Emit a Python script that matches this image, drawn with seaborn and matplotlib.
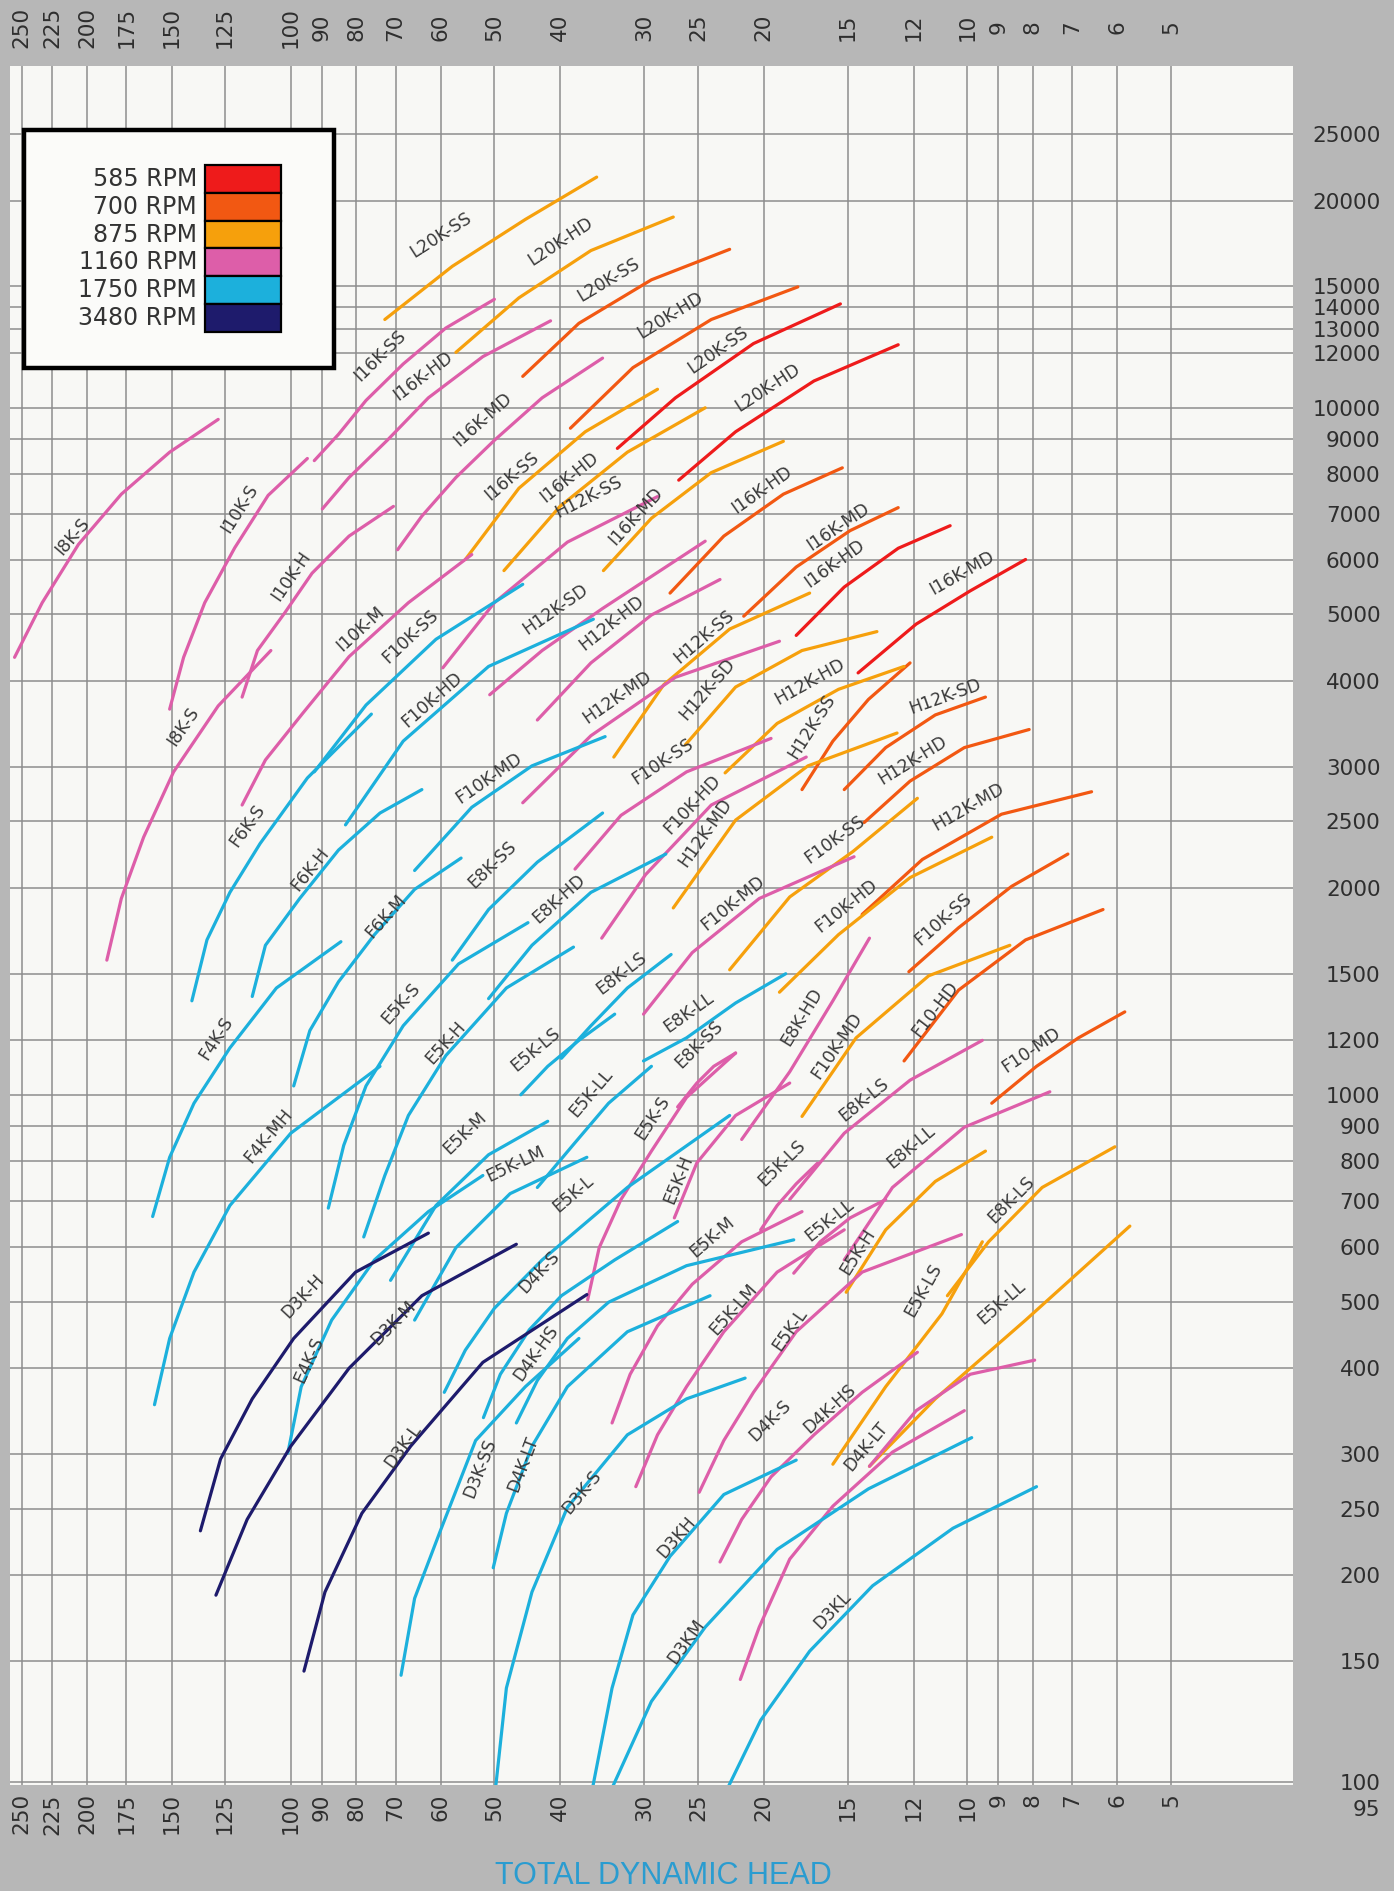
import numpy as np
import pandas as pd
import matplotlib
matplotlib.use("Agg")
import matplotlib.pyplot as plt
from matplotlib.patches import Rectangle
from matplotlib.ticker import NullLocator
import seaborn as sns

# ---------------- data (TDH in ft, flow in GPM) ----------------
speeds = ["585 RPM", "700 RPM", "875 RPM", "1160 RPM", "1750 RPM", "3480 RPM"]
colors = ["#ee1b1b", "#f25812", "#f6a00c", "#dd5ea9", "#1cb0dc", "#1e1b6c"]

names585 = ["L20K-SS", "L20K-HD", "I16K-HD", "I16K-MD"]
tdh585 = [[32.9, 27.0, 20.7, 15.4], [26.7, 22.0, 16.85, 12.65], [17.9, 15.2, 12.65, 10.6], [14.5, 11.9, 9.9, 8.2]]
gpm585 = [[8720, 10330, 12390, 14150], [7840, 9220, 10930, 12340], [4660, 5480, 6240, 6730], [4110, 4840, 5410, 6010]]
lab585_tdh = [23.4, 19.7, 15.7, 10.2]
lab585_gpm = [12130, 10670, 5920, 5750]

names700 = ["L20K-SS", "L20K-HD", "I16K-HD", "I16K-MD", "H12K-SS", "H12K-SD", "H12K-HD", "H12K-MD",
            "F10K-SS", "F10-HD", "F10-MD"]
tdh700 = [[45.4, 37.5, 29.3, 22.45], [38.6, 31.2, 23.9, 17.8], [27.5, 22.9, 18.7, 15.3], [21.4, 17.9, 14.9, 12.65],
          [17.55, 15.8, 14.0, 12.15], [15.2, 13.2, 11.15, 9.4], [14.2, 12.15, 10.1, 8.1], [14.3, 11.65, 8.9, 6.55],
          [12.2, 10.3, 8.6, 7.1], [12.4, 10.3, 8.2, 6.3], [9.2, 7.9, 6.85, 5.85]]
gpm700 = [[11100, 13260, 15340, 16990], [9330, 11430, 13430, 14980], [5370, 6500, 7480, 8170], [4970, 5860, 6620, 7150],
          [2780, 3270, 3760, 4250], [2780, 3200, 3570, 3790], [2490, 2860, 3200, 3400], [1830, 2200, 2560, 2760],
          [1510, 1750, 2010, 2240], [1120, 1420, 1680, 1860], [972, 1100, 1210, 1320]]
lab700_tdh = [33.9, 27.5, 20.1, 15.5, 17.0, 10.8, 12.05, 9.95, 10.85, 11.15, 8.05]
lab700_gpm = [15340, 13600, 7600, 6700, 3430, 3790, 3070, 2620, 1800, 1330, 1160]

names875 = ["L20K-SS", "L20K-HD", "I16K-SS", "I16K-HD", "I16K-MD", "H12K-SS", "H12K-SD", "H12K-HD", "H12K-MD",
            "F10K-SS", "F10K-HD", "F10K-MD", "E5K-H", "E5K-LS", "E5K-LL", "E8K-LS"]
tdh875 = [[72.6, 57.7, 45.0, 35.3], [57.0, 46.0, 36.0, 27.2], [55.2, 46.0, 36.7, 28.7], [48.4, 40.0, 31.8, 24.4],
          [34.5, 29.3, 23.9, 18.7], [33.3, 28.1, 22.45, 17.1], [26.1, 22.0, 17.55, 13.6], [22.8, 19.1, 15.5, 12.4],
          [27.2, 22.0, 17.2, 12.7], [22.45, 18.3, 14.75, 11.85], [18.95, 15.5, 12.15, 9.2], [17.55, 14.6, 11.4, 8.65],
          [15.1, 13.2, 11.15, 9.4], [15.8, 13.2, 10.9, 9.5], [13.95, 11.15, 8.2, 5.75], [10.7, 9.3, 7.75, 6.05]]
gpm875 = [[13430, 16050, 18780, 21640], [12030, 14440, 16920, 18930], [6010, 7630, 9220, 10630], [5790, 7180, 8610, 9990],
          [5790, 6900, 8040, 8930], [3100, 3950, 4760, 5370], [3230, 3920, 4430, 4720], [2940, 3470, 3890, 4200],
          [1870, 2510, 3010, 3360], [1520, 1940, 2260, 2700], [1410, 1710, 2070, 2370], [930, 1210, 1490, 1650],
          [516, 636, 748, 828], [290, 376, 480, 611], [288, 361, 470, 644], [510, 611, 733, 840]]
lab875_tdh = [60, 40, 47.2, 38.7, 30.9, 24.5, 24.2, 17.1, 24.4, 15.7, 15.1, 15.6, 14.5, 11.6, 8.9, 8.6]
lab875_gpm = [17800, 17460, 7940, 7910, 6950, 4640, 3890, 3990, 2410, 2350, 1880, 1180, 590, 520, 499, 704]

names1160 = ["I8K-S", "I10K-S", "I10K-H", "I8K-S", "I10K-M", "I16K-SS", "I16K-HD", "I16K-MD", "H12K-SS", "H12K-SD",
             "H12K-HD", "H12K-MD", "F10K-SS", "F10K-HD", "F10K-MD", "E8K-SS", "E8K-HD", "E8K-LS", "E8K-LL", "E5K-S",
             "E5K-H", "E5K-LS", "E5K-LL", "E5K-M", "E5K-LM", "E5K-L", "D4K-S", "D4K-HS", "D4K-LT"]
tdh1160 = [[256, 233, 206, 178, 151, 128], [151, 144, 134, 121, 108, 94.5], [118, 112, 102, 93, 82, 70.5],
           [187, 178, 165, 149, 128, 107], [118, 109, 96, 82, 67, 54], [92.3, 85, 77.4, 68.2, 59, 50],
           [89.8, 82, 72, 62.6, 52, 41.3], [69.5, 64, 57, 50, 42.5, 34.6],
           [59.6, 50, 39, 28.7], [50.8, 42.5, 34.6, 24.4], [43.2, 36, 29.3, 23.2], [45.4, 36, 27, 18.95],
           [38, 32.5, 26, 19.5], [34.7, 29.9, 23.9, 17.3], [30.1, 25.5, 20.3, 14.7], [26.8, 25.1, 23.7, 22.0],
           [21.55, 18.3, 15.8, 13.95], [18.3, 15.2, 12.15, 9.5], [15.2, 12.9, 10.1, 7.55],
           [36.4, 35, 32.5, 29.3, 26, 22], [27.1, 25.1, 22.0, 18.3], [20.2, 19.1, 17.9, 16.65],
           [18.05, 16.5, 14.9, 13.2], [33.5, 31.5, 28.7, 25.5, 21.55, 17.55], [30.9, 28.7, 26, 22.9, 19.1, 15.2],
           [24.9, 22.9, 20.7, 17.9, 14.3, 10.2], [23.2, 21.55, 19.5, 16.85, 14.3, 11.85],
           [21.65, 20.3, 18.3, 15.8, 12.9, 10.1], [13.95, 11.9, 9.9, 7.95]]
gpm1160 = [[4330, 5200, 6320, 7480, 8610, 9610], [3640, 4330, 5200, 6250, 7450, 8430], [3790, 4430, 5030, 5740, 6500, 7180],
           [1570, 1930, 2370, 2950, 3680, 4430], [2640, 3070, 3590, 4340, 5200, 6110], [8370, 9140, 10240, 11570, 13050, 14370],
           [7120, 7910, 8960, 10330, 11860, 13370], [6210, 6950, 7910, 8960, 10330, 11800],
           [4180, 5200, 6370, 7420], [3820, 4430, 5100, 6390], [3510, 4250, 4990, 5620], [2660, 3330, 4050, 4570],
           [2130, 2550, 2950, 3300], [1690, 2090, 2640, 3100], [1310, 1610, 1930, 2220], [960, 1040, 1100, 1150],
           [861, 1080, 1370, 1690], [704, 879, 1050, 1200], [575, 733, 897, 1010],
           [503, 599, 704, 828, 991, 1150], [662, 796, 933, 1040], [636, 690, 742, 795],
           [550, 611, 662, 704], [333, 392, 461, 530, 611, 676], [269, 320, 376, 452, 552, 636],
           [264, 314, 369, 452, 552, 626], [209, 241, 278, 320, 369, 422],
           [141, 168, 211, 252, 302, 347], [288, 347, 392, 411]]
lab1160_tdh = [210, 119, 100, 144, 79, 73.8, 63.7, 52, 36.3, 40.6, 33.6, 32.9, 28.2, 25.5, 22.2, 24.9, 17.55, 14.2,
               12.1, 29.2, 26.7, 18.8, 16.0, 23.8, 22.2, 18.3, 19.6, 15.95, 14.1]
lab1160_gpm = [6490, 7120, 5690, 3430, 4760, 11900, 11100, 9600, 7420, 5080, 4850, 3790, 3050, 2640, 1900, 1185, 1300,
               985, 840, 926, 754, 795, 657, 620, 487, 455, 336, 349, 308]

names1750 = ["F10K-SS", "F10K-HD", "F10K-MD", "F6K-S", "F6K-H", "F6K-M", "F4K-S", "F4K-MH", "E5K-S", "E5K-H",
             "E8K-SS", "E8K-HD", "E5K-LS", "E8K-LS", "E5K-LL", "E8K-LL", "E5K-M", "E5K-LM", "E5K-L", "D4K-S",
             "D4K-HS", "E4K-S", "D3K-SS", "D4K-LT", "D3K-S", "D3KH", "D3KM", "D3KL"]
tdh1750 = [[92.3, 77.4, 61, 45.4], [83, 68.2, 51, 35.7], [65.6, 54, 44, 34.3],
           [140, 133, 123, 111, 94.5, 76], [114, 109, 97, 85, 73.8, 64], [99, 93.7, 85, 75.2, 65.6, 56],
           [160, 151, 139, 123, 105, 84.3], [159, 151, 139, 123, 100, 73.8],
           [88, 83.5, 77.4, 68.2, 56.5, 44.6], [78, 72.6, 67, 59, 48, 38.2],
           [57.7, 51, 43.2, 34.6], [51, 44, 36, 27.9],
           [45.7, 41.7, 37.5, 33.2], [39.8, 36, 31.8, 27.4], [43.2, 38.3, 33.9, 29.3], [30.1, 26, 22, 18.55],
           [71.2, 61, 51, 41.7], [65.6, 57, 47.4, 36.5], [59.3, 55.2, 50, 42.5, 31.8, 22.45],
           [51.9, 49, 44.4, 39.8, 33.2, 26.8], [46.4, 43.2, 39, 33.9, 26, 18.05],
           [101, 96.5, 87, 75.2, 62.6, 52], [68.7, 65.6, 60.2, 53.3, 45, 37.5], [50.2, 48, 44, 39, 31.8, 24],
           [49.8, 48, 44, 39, 31.8, 26, 21.3], [35.8, 33.5, 31.2, 27.5, 22.9, 17.9],
           [33.5, 29.3, 24.4, 19.1, 14, 9.85], [22.6, 20.2, 17.1, 13.8, 10.5, 7.9]]
gpm1750 = [[2950, 3690, 4600, 5530], [2470, 3270, 4200, 4920], [2120, 2620, 3010, 3320],
           [1370, 1680, 1970, 2320, 2890, 3580], [1390, 1650, 1930, 2270, 2570, 2780],
           [1030, 1240, 1460, 1710, 1990, 2210], [665, 811, 972, 1170, 1430, 1670], [354, 442, 552, 690, 879, 1100],
           [684, 844, 1030, 1260, 1550, 1780], [621, 763, 933, 1140, 1430, 1640],
           [1570, 1860, 2180, 2570], [1380, 1650, 1970, 2240],
           [1000, 1100, 1200, 1310], [1130, 1260, 1430, 1600], [733, 844, 972, 1100], [1120, 1210, 1360, 1500],
           [537, 690, 818, 915], [470, 599, 718, 811], [369, 425, 489, 575, 733, 933],
           [339, 392, 455, 510, 575, 654], [333, 384, 442, 499, 564, 615],
           [301, 376, 470, 575, 676, 763], [143, 185, 231, 314, 376, 442], [205, 246, 308, 376, 452, 510],
           [98, 137, 189, 251, 320, 361, 387], [98, 137, 175, 213, 262, 294],
           [98, 131, 168, 218, 267, 317], [98, 123, 155, 193, 234, 269]]
lab1750_tdh = [66.5, 61.8, 51, 116, 93.5, 72.3, 129, 108, 68.8, 59, 50.4, 40.1, 43.4, 32.5, 36, 25.8, 55.2, 46.6,
               38.3, 42.9, 43.4, 94, 52.5, 45.3, 37.2, 26.9, 26, 15.8]
lab1750_gpm = [4640, 3760, 2890, 2460, 2130, 1820, 1210, 872, 1360, 1190, 2160, 1930, 1165, 1500, 1005, 1320, 879,
               794, 718, 553, 421, 411, 286, 290, 264, 227, 160, 178]

names3480 = ["D3K-H", "D3K-M", "D3K-L"]
tdh3480 = [[136, 127, 114, 99, 80.2, 62.6], [129, 116, 100, 82, 64, 46.4], [95.6, 89, 78.5, 66.5, 52, 36.5]]
gpm3480 = [[232, 295, 361, 442, 552, 629], [187, 241, 308, 400, 510, 606], [145, 189, 246, 308, 408, 512]]
lab3480_tdh = [96, 70.6, 68.2]
lab3480_gpm = [510, 465, 308]

x_ticks = [250, 225, 200, 175, 150, 125, 100, 90, 80, 70, 60, 50, 40, 30, 25, 20, 15, 12, 10, 9, 8, 7, 6, 5]
y_ticks = [25000, 20000, 15000, 14000, 13000, 12000, 10000, 9000, 8000, 7000, 6000, 5000, 4000, 3000, 2500,
           2000, 1500, 1200, 1000, 900, 800, 700, 600, 500, 400, 300, 250, 200, 150, 100]

groups = [
    ("585 RPM", names585, tdh585, gpm585, lab585_tdh, lab585_gpm),
    ("700 RPM", names700, tdh700, gpm700, lab700_tdh, lab700_gpm),
    ("875 RPM", names875, tdh875, gpm875, lab875_tdh, lab875_gpm),
    ("1160 RPM", names1160, tdh1160, gpm1160, lab1160_tdh, lab1160_gpm),
    ("1750 RPM", names1750, tdh1750, gpm1750, lab1750_tdh, lab1750_gpm),
    ("3480 RPM", names3480, tdh3480, gpm3480, lab3480_tdh, lab3480_gpm),
]

rows = []
for spd, names, tl, gl, _, _ in groups:
    for i, (n, t, g) in enumerate(zip(names, tl, gl)):
        for tv, gv in zip(t, g):
            rows.append((spd, f"{spd}|{i}", n, tv, gv))
df = pd.DataFrame(rows, columns=["speed", "curve", "pump", "tdh", "gpm"])

# ---------------- figure ----------------
sns.set_theme(style="white")
plt.rcParams["font.family"] = ["DejaVu Sans"]

W, H = 1394, 1891
fig = plt.figure(figsize=(W / 100, H / 100), dpi=100)
fig.patch.set_facecolor("#b7b7b7")
ax = fig.add_axes([10 / W, 1 - 1785 / H, 1283 / W, 1719 / H])
ax.set_facecolor("#f8f8f5")
ax.set_xscale("log")
ax.set_yscale("log")

sns.lineplot(data=df, x="tdh", y="gpm", hue="speed", hue_order=speeds,
             palette=dict(zip(speeds, colors)), units="curve", estimator=None,
             sort=False, legend=False, linewidth=2.3, ax=ax,
             solid_capstyle="round", solid_joinstyle="round")

ax.set_xlim(260, 3.3)
ax.set_ylim(99, 31400)
ax.set_xlabel("")
ax.set_ylabel("")

tick_color = "#2e2e2e"
tick_size = 15.5
ax.set_xticks(x_ticks)
ax.set_xticklabels([str(v) for v in x_ticks])
ax.xaxis.set_minor_locator(NullLocator())
ax.yaxis.tick_right()
ax.set_yticks(y_ticks)
ax.set_yticklabels([str(v) for v in y_ticks], ha="right")
ax.yaxis.set_minor_locator(NullLocator())
ax.tick_params(axis="x", which="both", length=0, pad=6, labelsize=tick_size,
               labelcolor=tick_color, labelrotation=90)
ax.tick_params(axis="y", which="both", length=0, pad=63, labelsize=tick_size,
               labelcolor=tick_color)
ax.grid(True, which="major", color="#8d8d8d", linewidth=1.1)
ax.set_axisbelow(True)
for s in ax.spines.values():
    s.set_visible(False)

sec = ax.secondary_xaxis("top")
sec.set_xticks(x_ticks)
sec.set_xticklabels([str(v) for v in x_ticks], va="center")
sec.xaxis.set_minor_locator(NullLocator())
sec.tick_params(axis="x", which="both", length=0, pad=28, labelsize=tick_size,
                labelcolor=tick_color, labelrotation=90)
for s in sec.spines.values():
    s.set_visible(False)

ax.annotate("95", xy=(1, 100), xycoords=("axes fraction", "data"), xytext=(63, -20),
            textcoords="offset points", ha="right", va="center", fontsize=tick_size,
            color=tick_color, annotation_clip=False)

# curve labels, rotated along the nearest part of their curve
trans = ax.transData
for spd, names, tl, gl, lt, lg in groups:
    for n, t, g, x0, y0 in zip(names, tl, gl, lt, lg):
        pts = trans.transform(np.column_stack([t, g]))
        p = trans.transform((x0, y0))
        best = None
        for k in range(len(pts) - 1):
            a, b = pts[k], pts[k + 1]
            ab = b - a
            u = np.clip(np.dot(p - a, ab) / np.dot(ab, ab), 0, 1)
            d = np.linalg.norm(a + u * ab - p)
            if best is None or d < best[0]:
                best = (d, ab)
        ang = np.degrees(np.arctan2(best[1][1], best[1][0]))
        ax.text(x0, y0, n, rotation=ang, rotation_mode="anchor", ha="center", va="center",
                fontsize=12.5, color="#3a3a3a", zorder=5)

# legend box
def fx(px):
    return px / W


def fy(py):
    return 1 - py / H


fig.add_artist(Rectangle((fx(24), fy(368)), fx(334) - fx(24), fy(130) - fy(368),
                         transform=fig.transFigure, facecolor="#fbfbf9", edgecolor="black",
                         linewidth=3.2, zorder=20))
top, rh = 165, 27.8
for i, (spd, c) in enumerate(zip(speeds, colors)):
    y0 = top + rh * i
    fig.add_artist(Rectangle((fx(205), fy(y0 + rh)), fx(281) - fx(205), rh / H,
                             transform=fig.transFigure, facecolor=c, edgecolor="black",
                             linewidth=1.6, zorder=21))
    fig.text(fx(197), fy(y0 + rh / 2), spd, ha="right", va="center", fontsize=17,
             color="#333333", zorder=22)

fig.text(663 / W, 1 - 1876 / H, "TOTAL DYNAMIC HEAD", fontsize=22, color="#2a9cd0",
         ha="center", va="center", family=["Liberation Sans", "DejaVu Sans"])

fig.savefig("out.png", dpi=100, facecolor=fig.get_facecolor())
